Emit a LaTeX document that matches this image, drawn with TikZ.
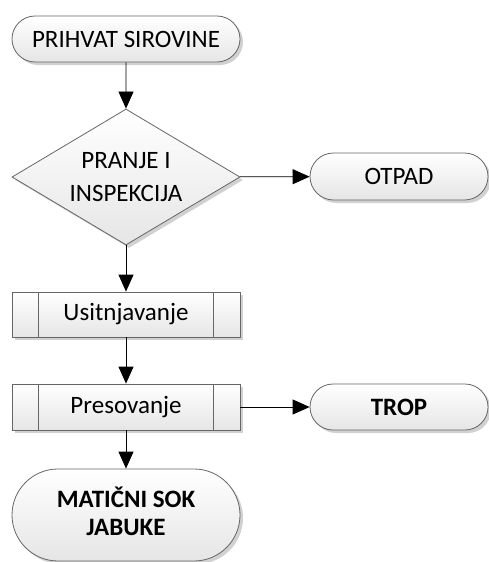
\documentclass[tikz,border=0pt]{standalone}
\usepackage{fontspec}
\setmainfont{Carlito}
\usetikzlibrary{shapes.geometric,shapes.misc,arrows.meta,shadows}
\begin{document}
\begin{tikzpicture}[x=1pt,y=1pt,
  base/.style={draw=black!60, line width=0.8pt, top color=white, bottom color=black!10,
    drop shadow={shadow xshift=3pt, shadow yshift=-3pt, fill=black!18, opacity=1},
    font=\fontsize{25}{33}\selectfont, align=center, inner sep=0pt},
  term/.style={base, rounded rectangle, minimum width=#1},
  term/.default=228pt,
  decision/.style={base, diamond, minimum width=228pt, minimum height=136pt, aspect=1.676},
  procbox/.style={base, rectangle, minimum width=228pt, minimum height=46pt},
  conn/.style={draw=black, line width=0.8pt, -{Triangle[width=15pt,length=17pt]}}
]
\useasboundingbox (0,0) rectangle (489,-562);
\node[term, minimum height=46pt] (t1) at (126,-39) {PRIHVAT SIROVINE};
\node[decision] (d) at (126,-177) {PRANJE I\\INSPEKCIJA};
\node[term=178pt, minimum height=47pt] (otpad) at (399,-176.5) {OTPAD};
\node[procbox, minimum height=45pt] (u) at (126,-314.5) {Usitnjavanje};
\node[procbox] (p) at (126,-407) {Presovanje};
\node[term=178pt, minimum height=46pt, font=\fontsize{25}{33}\selectfont\bfseries] (trop) at (399,-407) {TROP};
\node[term, minimum height=92pt, font=\fontsize{25}{30}\selectfont\bfseries] (mat) at (126,-515) {\raisebox{-4pt}{\begin{tabular}{@{}c@{}}MATIČNI SOK\\[-2pt]JABUKE\end{tabular}}};
\foreach \n in {u,p}{
  \draw[draw=black!60, line width=0.8pt] ([xshift=27pt]\n.north west) -- ([xshift=27pt]\n.south west);
  \draw[draw=black!60, line width=0.8pt] ([xshift=-27pt]\n.north east) -- ([xshift=-27pt]\n.south east);
}
\draw[conn] (t1) -- (d);
\draw[conn] (d) -- (otpad);
\draw[conn] (d) -- (u);
\draw[conn] (u) -- (p);
\draw[conn] (p) -- (trop);
\draw[conn] (p) -- (mat);
\end{tikzpicture}
\end{document}
